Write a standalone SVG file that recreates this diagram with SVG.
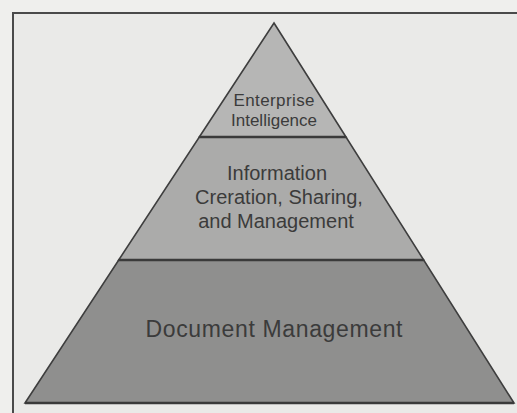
<svg xmlns="http://www.w3.org/2000/svg" width="517" height="413" viewBox="0 0 517 413">
  <style>
    .tier { stroke: #3e3e3e; stroke-width: 1.6; stroke-linejoin: miter; }
    .divider { stroke: #3a3a3a; stroke-width: 2.4; }
    .label { font-family: "Liberation Sans", Arial, sans-serif; fill: #3b3b3b; text-anchor: middle; }
  </style>
  <!-- page background and frame -->
  <rect x="0" y="0" width="517" height="413" fill="#efefed"/>
  <rect x="13" y="13" width="520" height="420" fill="#eaeae8" stroke="#4a4a4a" stroke-width="2"/>

  <!-- top tier -->
  <g id="enterprise-intelligence">
    <polygon class="tier" points="274,23 346,137 199.3,137" fill="#b6b6b5"/>
    <text class="label" x="274" y="106" font-size="17" textLength="81">Enterprise</text>
    <text class="label" x="274" y="126" font-size="17" textLength="86">Intelligence</text>
  </g>

  <!-- middle tier -->
  <g id="information-management">
    <polygon class="tier" points="199.3,137 346,137 423.7,260 118.7,260" fill="#ababaa"/>
    <text class="label" x="277" y="180" font-size="20">Information</text>
    <text class="label" x="279" y="204" font-size="20">Creration, Sharing,</text>
    <text class="label" x="276" y="228" font-size="20">and Management</text>
  </g>

  <!-- base tier -->
  <g id="document-management">
    <polygon class="tier" points="118.7,260 423.7,260 514,403 25,403" fill="#8f8f8e"/>
    <text class="label" x="274" y="337" font-size="23" textLength="257">Document Management</text>
  </g>

  <!-- tier boundaries -->
  <g id="connectors">
    <line class="divider" x1="199.3" y1="137" x2="346" y2="137"/>
    <line class="divider" x1="118.7" y1="260" x2="423.7" y2="260"/>
    <line class="divider" x1="25" y1="403" x2="514" y2="403"/>
  </g>
</svg>
